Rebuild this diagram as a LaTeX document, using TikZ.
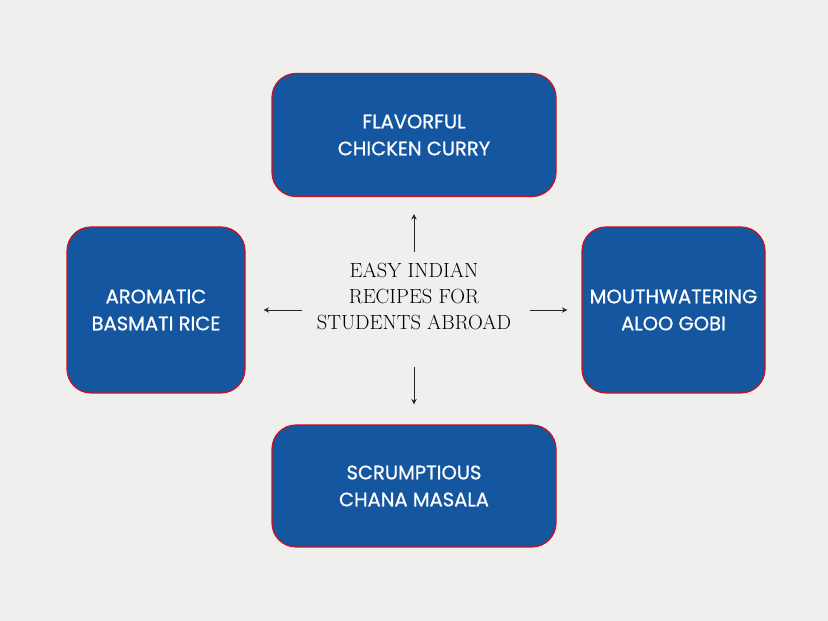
\documentclass[tikz,border=0pt]{standalone}
\usepackage{fontspec}
\newfontfamily\boxfont{Poppins}[FakeBold=0.8]
\usetikzlibrary{arrows.meta}
\definecolor{bg}{HTML}{EFEFEE}
\definecolor{boxblue}{HTML}{1556A0}
\definecolor{boxred}{HTML}{D0101A}
\tikzset{
  card/.style={draw=boxred, line width=1.2pt, fill=boxblue, rounded corners=24pt,
    text=white, align=center, inner sep=0pt,
    font=\boxfont\fontsize{19.5}{27}\selectfont},
  arr/.style={-{Stealth[length=5.5pt,width=5.5pt]}, line width=0.9pt, draw=black!85}
}
\begin{document}
\begin{tikzpicture}[x=1pt,y=1pt]
\useasboundingbox (0,0) rectangle (828,621);
\fill[bg] (0,0) rectangle (828,621);
\node[card, minimum width=284pt, minimum height=123pt] (top) at (414,486) {FLAVORFUL\\CHICKEN CURRY};
\node[card, minimum width=178pt, minimum height=166pt] (left) at (156,311) {AROMATIC\\BASMATI RICE};
\node[card, minimum width=183pt, minimum height=166pt] (right) at (673.5,311) {MOUTHWATERING\\ALOO GOBI};
\node[card, minimum width=284pt, minimum height=122pt] (bottom) at (414,135) {SCRUMPTIOUS\\CHANA MASALA};
\node[align=center, font=\fontsize{20.5}{26}\selectfont, inner sep=0pt] (center) at (414,325) {EASY INDIAN\\RECIPES FOR\\STUDENTS ABROAD};
\coordinate (cu) at (414,369);
\coordinate (cd) at (414,254);
\coordinate (cl) at (302,311);
\coordinate (cr) at (530,311);
\draw[arr] (cu) -- ([yshift=-17pt]top.south);
\draw[arr] (cd) -- ([yshift=20pt]bottom.north);
\draw[arr] (cl) -- ([xshift=18pt]left.east);
\draw[arr] (cr) -- ([xshift=-14pt]right.west);
\end{tikzpicture}
\end{document}
